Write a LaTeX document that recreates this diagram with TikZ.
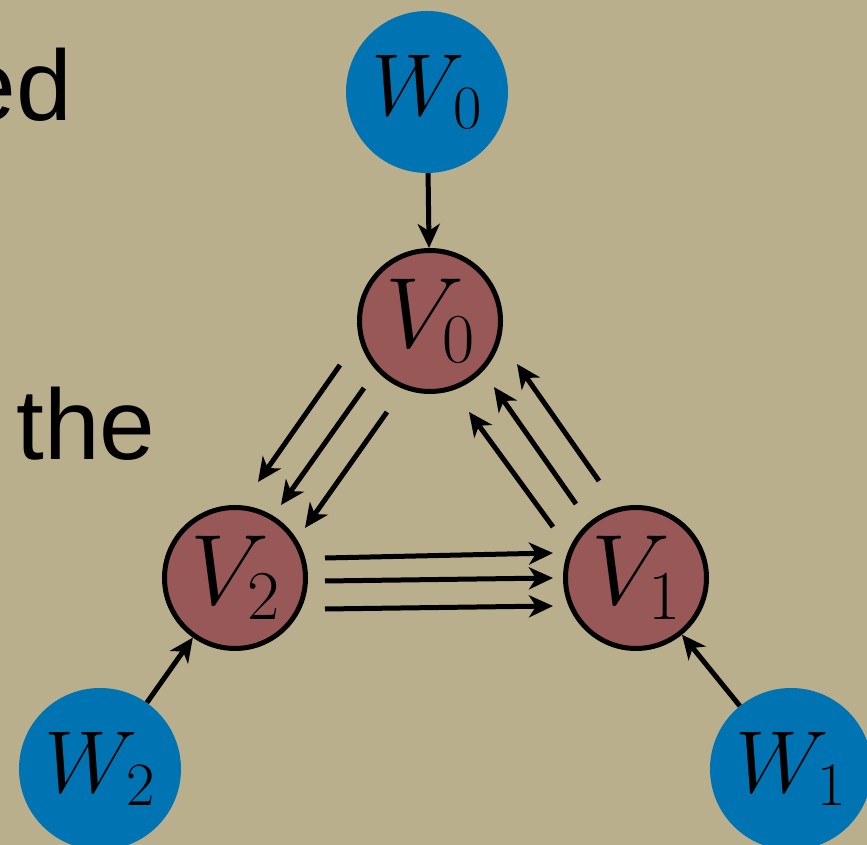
\RequirePackage{fix-cm}
\documentclass[tikz,border=0pt]{standalone}
\usepackage{fontspec}
\newfontfamily\handfont{Liberation Sans}
\usetikzlibrary{arrows.meta}
\definecolor{paper}{HTML}{BAAF8C}
\definecolor{wblue}{HTML}{0073B2}
\definecolor{vred}{HTML}{985858}

\begin{document}
\begin{tikzpicture}[x=1pt, y=1pt, >={Stealth[length=24pt,width=22pt,inset=7pt]},
    vnode/.style={circle, draw, line width=5pt, fill=vred, minimum size=141pt, inner sep=0pt,
        font=\fontsize{100}{100}\selectfont},
    wnode/.style={circle, fill=wblue, minimum size=162pt, inner sep=0pt,
        font=\fontsize{88}{88}\selectfont},
    hand/.style={inner sep=0pt, font=\handfont\fontsize{100}{100}\selectfont},
    link/.style={->, line width=5pt}]
    \useasboundingbox (0,0) rectangle (867,845);
    \fill[paper] (0,0) rectangle (867,845);
    \clip (0,0) rectangle (867,845);

    \node[hand, anchor=base east] (ed) at (72,724) {ed};
    \node[hand, anchor=base west] (the) at (16,385) {the};

    \node[wnode] (W0) at (427,753) {$W_0$};
    \node[vnode] (V0) at (430,524) {$V_0$};
    \node[vnode] (V1) at (636,267) {$V_1$};
    \node[vnode] (V2) at (235,267) {$V_2$};
    \node[wnode] (W1) at (791,76) {$W_1$};
    \node[wnode] (W2) at (100,76) {$W_2$};

    \draw[link] (W0) -- (V0);
    \draw[link] (W1) -- (V1);
    \draw[link] (W2) -- (V2);

    \draw[link] ([shift={(-90,-44)}]V0.center) -- ([shift={(23,96)}]V2.center);
    \draw[link] ([shift={(-66,-67)}]V0.center) -- ([shift={(46,73)}]V2.center);
    \draw[link] ([shift={(-43,-91)}]V0.center) -- ([shift={(70,50)}]V2.center);

    \draw[link] ([shift={(-83,51)}]V1.center) -- ([shift={(39,-91)}]V0.center);
    \draw[link] ([shift={(-60,74)}]V1.center) -- ([shift={(64,-66)}]V0.center);
    \draw[link] ([shift={(-37,97)}]V1.center) -- ([shift={(87,-43)}]V0.center);

    \draw[link] ([shift={(90,20)}]V2.center) -- ([shift={(-83,25)}]V1.center);
    \draw[link] ([shift={(90,-3)}]V2.center) -- ([shift={(-83,0)}]V1.center);
    \draw[link] ([shift={(90,-31)}]V2.center) -- ([shift={(-83,-28)}]V1.center);
\end{tikzpicture}
\end{document}
